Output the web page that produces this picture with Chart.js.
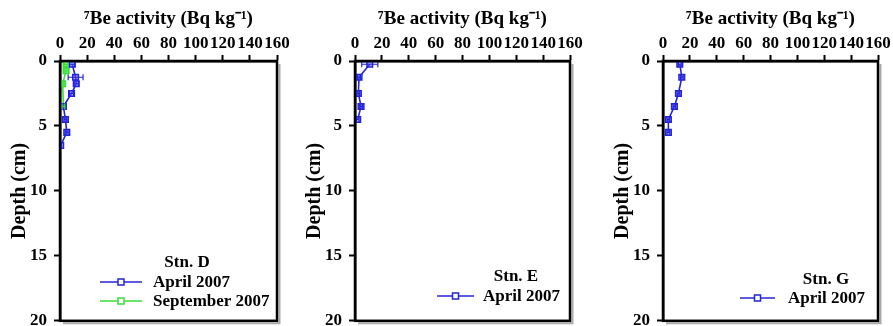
<!DOCTYPE html>
<html>
<head>
<meta charset="utf-8">
<script src="https://cdn.jsdelivr.net/npm/chart.js@4.4.0/dist/chart.umd.min.js"></script>
<style>
  body { margin: 0; background: #fff; width: 893px; height: 326px; position: relative; overflow: hidden; }
  .panel { position: absolute; top: 0; height: 338px; }
</style>
</head>
<body>
<div class="panel" style="left:0;width:297px"><canvas id="stnD"></canvas></div>
<div class="panel" style="left:295px;width:295px"><canvas id="stnE"></canvas></div>
<div class="panel" style="left:603px;width:290px"><canvas id="stnG"></canvas></div>
<script>
// 7Be activity (Bq/kg) vs depth (cm)
var xTicks = [0, 20, 40, 60, 80, 100, 120, 140, 160];
var yTicks = [0, 5, 10, 15, 20];

// Stn. D
var depthD_apr = [0.25, 1.25, 1.75, 2.5, 3.5, 4.5, 5.5, 6.5];
var beD_apr = [9, 11.5, 12, 8.5, 2.5, 4, 5, 0.5];
var errD_apr = [2, 5.5, 1.5, 1.5, 1, 1, 1, 0.5];
var depthD_sep = [0.25, 0.75, 1.75, 3.5];
var beD_sep = [4.5, 4.5, 2, 2.5];
var errD_sep = [1.5, 1.5, 1, 1];

// Stn. E
var depthE_apr = [0.25, 1.25, 2.5, 3.5, 4.5];
var beE_apr = [11, 3, 2.5, 4.5, 2];
var errE_apr = [6, 1, 1, 1, 1];

// Stn. G
var depthG_apr = [0.25, 1.25, 2.5, 3.5, 4.5, 5.5];
var beG_apr = [12.5, 14, 11.5, 8.5, 4, 4];
var errG_apr = [1, 1, 1, 1, 1, 1];

var BLUE = '#2424d8';
var GREEN = '#3bdc3b';
var SERIF = "'Liberation Serif', 'Times New Roman', serif";

function profile(label, depths, values, errors, color) {
  return {
    label: label,
    data: depths.map(function (d, i) { return { x: values[i], y: d }; }),
    errors: errors,
    showLine: true,
    borderColor: color,
    backgroundColor: color,
    borderWidth: 1.6,
    pointStyle: 'rect',
    pointRadius: 4,
    pointBorderWidth: 1.5,
    pointBorderColor: color,
    pointBackgroundColor: color === BLUE ? 'rgba(90,90,255,0.55)' : 'rgba(90,240,90,0.7)'
  };
}

// horizontal error bars with caps
var errorBars = {
  id: 'errorBars',
  afterDatasetsDraw: function (chart) {
    var ctx = chart.ctx, xs = chart.scales.x, ys = chart.scales.y, a = chart.chartArea;
    ctx.save();
    ctx.beginPath();
    ctx.rect(a.left, a.top, a.right - a.left, a.bottom - a.top);
    ctx.clip();
    chart.data.datasets.forEach(function (ds) {
      if (!ds.errors) return;
      ctx.strokeStyle = ds.borderColor;
      ctx.lineWidth = 1.2;
      ds.data.forEach(function (p, i) {
        var e = ds.errors[i];
        if (!e) return;
        var x1 = xs.getPixelForValue(p.x - e), x2 = xs.getPixelForValue(p.x + e);
        var y = ys.getPixelForValue(p.y);
        ctx.beginPath();
        ctx.moveTo(x1, y); ctx.lineTo(x2, y);
        ctx.moveTo(x1, y - 3); ctx.lineTo(x1, y + 3);
        ctx.moveTo(x2, y - 3); ctx.lineTo(x2, y + 3);
        ctx.stroke();
      });
    });
    ctx.restore();
  }
};

// box round the plot, with a faint shadow
var frame = {
  id: 'frame',
  afterDraw: function (chart) {
    var ctx = chart.ctx, a = chart.chartArea;
    ctx.save();
    ctx.strokeStyle = '#aaa';
    ctx.lineWidth = 2;
    ctx.beginPath();
    ctx.moveTo(a.right + 2.5, a.top + 3);
    ctx.lineTo(a.right + 2.5, a.bottom + 2.5);
    ctx.lineTo(a.left + 3, a.bottom + 2.5);
    ctx.stroke();
    ctx.strokeStyle = '#000';
    ctx.lineWidth = 2.5;
    ctx.strokeRect(a.left, a.top, a.right - a.left, a.bottom - a.top);
    ctx.restore();
  }
};

// legend inside the plot, bottom right
var stnLegend = {
  id: 'stnLegend',
  afterDraw: function (chart, args, opts) {
    var ctx = chart.ctx, a = chart.chartArea;
    ctx.save();
    ctx.font = 'bold 17px ' + SERIF;
    ctx.fillStyle = '#000';
    ctx.textBaseline = 'middle';
    ctx.textAlign = 'center';
    ctx.fillText(opts.title, a.left + opts.titleX, opts.titleY);
    ctx.textAlign = 'left';
    chart.data.datasets.forEach(function (ds, i) {
      var y = opts.rowY + i * opts.rowGap;
      var x0 = a.left + opts.lineX, x1 = x0 + opts.lineLen;
      ctx.strokeStyle = ds.borderColor;
      ctx.lineWidth = 1.5;
      ctx.beginPath();
      ctx.moveTo(x0, y); ctx.lineTo(x1, y);
      ctx.stroke();
      var m = (x0 + x1) / 2;
      ctx.fillStyle = '#fff';
      ctx.fillRect(m - 3, y - 3, 6, 6);
      ctx.strokeRect(m - 3, y - 3, 6, 6);
      ctx.fillStyle = '#000';
      ctx.fillText(ds.label, a.left + opts.textX, y + 1);
    });
    ctx.restore();
  }
};

function makeChart(id, datasets, legendOpts, padRight) {
  return new Chart(document.getElementById(id), {
    type: 'scatter',
    data: { datasets: datasets },
    plugins: [errorBars, frame, stnLegend],
    options: {
      responsive: true,
      maintainAspectRatio: false,
      animation: false,
      layout: { padding: { top: 0, left: 0, right: padRight, bottom: 7 } },
      plugins: {
        legend: { display: false },
        tooltip: { enabled: false },
        stnLegend: legendOpts
      },
      scales: {
        x: {
          type: 'linear',
          position: 'top',
          min: 0,
          max: 160,
          afterBuildTicks: function (s) { s.ticks = xTicks.map(function (v) { return { value: v }; }); },
          afterFit: function (s) { s.height = 61; },
          ticks: {
            autoSkip: false,
            maxRotation: 0,
            padding: 1,
            color: '#000',
            font: { family: SERIF, size: 17, weight: 'bold' }
          },
          grid: { drawOnChartArea: false, drawTicks: true, tickLength: 6, tickWidth: 2, tickColor: '#000' },
          border: { display: true, color: '#000', width: 2.5 },
          title: {
            display: true,
            text: '\u2077Be activity (Bq kg\u207B\u00B9)',
            color: '#000',
            padding: { top: 8, bottom: 0 },
            font: { family: SERIF, size: 19, weight: 'bold' }
          }
        },
        y: {
          type: 'linear',
          reverse: true,
          min: 0,
          max: 20,
          afterBuildTicks: function (s) { s.ticks = yTicks.map(function (v) { return { value: v }; }); },
          afterFit: function (s) { s.width = 60; },
          ticks: {
            padding: 7,
            color: '#000',
            font: { family: SERIF, size: 17, weight: 'bold' }
          },
          grid: { drawOnChartArea: false, drawTicks: true, tickLength: 6, tickWidth: 2, tickColor: '#000' },
          border: { display: true, color: '#000', width: 2.5 },
          title: {
            display: true,
            text: 'Depth (cm)',
            color: '#000',
            padding: { top: 8, bottom: 0 },
            font: { family: SERIF, size: 20, weight: 'bold' }
          }
        }
      }
    }
  });
}

makeChart('stnD', [
  profile('April 2007', depthD_apr, beD_apr, errD_apr, BLUE),
  profile('September 2007', depthD_sep, beD_sep, errD_sep, GREEN)
], { title: 'Stn. D', titleX: 127, titleY: 263, lineX: 40, lineLen: 42, textX: 93, rowY: 282, rowGap: 19 }, 20);

makeChart('stnE', [
  profile('April 2007', depthE_apr, beE_apr, errE_apr, BLUE)
], { title: 'Stn. E', titleX: 161, titleY: 277, lineX: 82, lineLen: 37, textX: 128, rowY: 296, rowGap: 19 }, 20);

makeChart('stnG', [
  profile('April 2007', depthG_apr, beG_apr, errG_apr, BLUE)
], { title: 'Stn. G', titleX: 163, titleY: 280, lineX: 77, lineLen: 35, textX: 125, rowY: 298, rowGap: 19 }, 15);
</script>
</body>
</html>
